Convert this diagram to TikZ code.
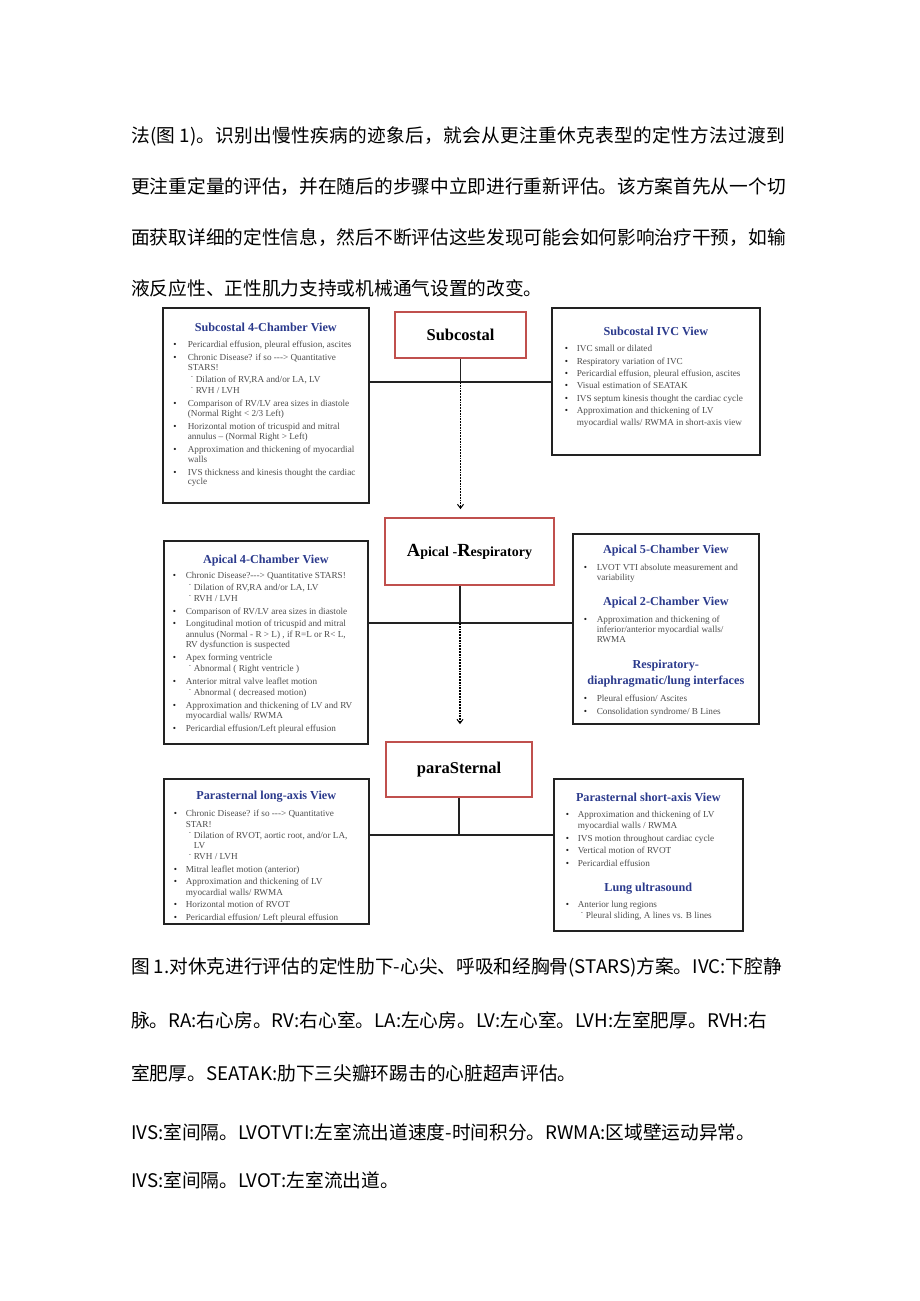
\documentclass[tikz,border=0pt]{standalone}
\usepackage{fontspec}
\setmainfont{Liberation Serif}
\newfontfamily\cjk{Noto Sans CJK SC}
\usetikzlibrary{arrows.meta,calc}
\definecolor{viewblue}{HTML}{2B3A8C}
\definecolor{bodygray}{HTML}{4D4D4D}
\definecolor{stagered}{HTML}{C0504D}
\definecolor{framegray}{HTML}{222222}
\XeTeXlinebreaklocale "zh"
\XeTeXlinebreakskip=0pt plus 1pt
% list lines inside the view boxes
\newlength\bulx \newlength\txtx \newlength\subx \newlength\subtx
\newlength\subgap \newlength\headpost
\setlength\subgap{1.5pt}
\newcommand{\vsetup}[7]{\setlength\bulx{#1pt}\setlength\txtx{#2pt}%
  \setlength\subx{#3pt}\setlength\subtx{#4pt}\setlength\parskip{#5pt}%
  \fontsize{9.2}{#6}\selectfont\setlength\headpost{#7pt}}
\newcommand{\vhead}[2][0]{\par\vskip#1pt\relax
  {\centering\bfseries\fontsize{12.2}{16}\selectfont\leavevmode\color{viewblue}#2\par}\vskip\headpost}
\newcommand{\vitem}[1]{\par\hangindent=\txtx\hangafter=1\noindent
  \hbox to\txtx{\hskip\bulx\textcolor{framegray}{\textbullet}\hss}#1}
\newcommand{\vsub}[1]{\par\vskip-\subgap\hangindent=\subtx\hangafter=1\noindent
  \hbox to\subtx{\hskip\subx\textsuperscript{-}\hss}#1}

\begin{document}
\begin{tikzpicture}[x=1pt, y=-1pt,
    zhline/.style={anchor=west, inner sep=0pt, font=\cjk\fontsize{18.7}{20}\selectfont},
    viewbox/.style={draw=framegray, line width=1.6pt, inner sep=0pt, anchor=north west,
      text=bodygray, font=\fontsize{9.2}{9.8}\selectfont},
    stage/.style={draw=stagered, line width=1.8pt, inner sep=0pt,
      font=\bfseries\fontsize{16.5}{18}\selectfont},
    link/.style={draw=framegray, line width=1.9pt},
    flow/.style={draw=black, line width=1.8pt, densely dotted,
      -{Straight Barb[length=4pt,width=6pt,line width=1pt]}}]
  \useasboundingbox (0,0) rectangle (920,1301);
  % paragraph above the chart
  \node[zhline] (p1) at (131,136) {\addfontfeature{LetterSpace=1.5}法(图\kern4pt 1)。识别出慢性疾病的迹象后，就会从更注重休克表型的定性方法过渡到};
  \node[zhline] (p2) at (131,187) {\makebox[654pt][s]{更注重定量的评估，并在随后的步骤中立即进行重新评估。该方案首先从一个切}};
  \node[zhline] (p3) at (131,238) {\makebox[654pt][s]{面获取详细的定性信息，然后不断评估这些发现可能会如何影响治疗干预，如输}};
  \node[zhline] (p4) at (131,288) {液反应性、正性肌力支持或机械通气设置的改变。};
  % stages
  \node[stage, minimum width=131pt, minimum height=46pt] (subc) at (460.5,335) {Subcostal};
  \node[stage, minimum width=169pt, minimum height=67pt] (apres) at (469.5,551.5)
    {{\fontsize{18.5}{20}\selectfont A}{\fontsize{14}{16}\selectfont pical -}%
     {\fontsize{18.5}{20}\selectfont R}{\fontsize{14}{16}\selectfont espiratory}};
  \node[stage, minimum width=146pt, minimum height=55pt] (parast) at (459,769.5) {paraSternal};
  % views, subcostal row
  \node[viewbox] (sc4) at (162,307) {\parbox[t][195pt][t]{206pt}{%
    \vsetup{10.5}{25}{28}{33}{3.2}{9.8}{3}\vspace*{12.5pt}%
    \vhead{Subcostal 4-Chamber View}
    \vitem{Pericardial effusion, pleural effusion, ascites}
    \vitem{Chronic Disease? if so -{}-{}-> Quantitative\\STARS!}
    \vsub{Dilation of RV,RA and/or LA, LV}
    \vsub{RVH / LVH}
    \vitem{Comparison of RV/LV area sizes in diastole\\(Normal Right < 2/3 Left)}
    \vitem{Horizontal motion of tricuspid and mitral\\annulus -- (Normal Right > Left)}
    \vitem{Approximation and thickening of myocardial\\walls}
    \vitem{IVS thickness and kinesis thought the cardiac\\cycle}}};
  \node[viewbox] (ivc) at (551,307) {\parbox[t][147pt][t]{208pt}{%
    \vsetup{13}{25}{0}{0}{0}{12.3}{3.7}\vspace*{19.7pt}%
    \vhead{Subcostal IVC View}
    \vitem{IVC small or dilated}
    \vitem{Respiratory variation of IVC}
    \vitem{Pericardial effusion, pleural effusion, ascites}
    \vitem{Visual estimation of SEATAK}
    \vitem{IVS septum kinesis thought the cardiac cycle}
    \vitem{Approximation and thickening of LV\\myocardial walls/ RWMA in short-axis view}}};
  % views, apical row
  \node[viewbox] (ap4) at (163,540) {\parbox[t][203pt][t]{204pt}{%
    \vsetup{9}{22}{25}{30}{2.2}{10.5}{2.3}\vspace*{12.5pt}%
    \vhead{Apical 4-Chamber View}
    \vitem{Chronic Disease?-{}-{}-> Quantitative STARS!}
    \vsub{Dilation of RV,RA and/or LA, LV}
    \vsub{RVH / LVH}
    \vitem{Comparison of RV/LV area sizes in diastole}
    \vitem{Longitudinal motion of tricuspid and mitral\\annulus (Normal - R > L) , if R=L or R< L,\\RV dysfunction is suspected}
    \vitem{Apex forming ventricle}
    \vsub{Abnormal ( Right ventricle )}
    \vitem{Anterior mitral valve leaflet motion}
    \vsub{Abnormal ( decreased motion)}
    \vitem{Approximation and thickening of LV and RV\\myocardial walls/ RWMA}
    \vitem{Pericardial effusion/Left pleural effusion}}};
  \node[viewbox] (ap52) at (572,533) {\parbox[t][190pt][t]{186pt}{%
    \vsetup{11}{24}{0}{0}{3}{10}{4}\vspace*{8.7pt}%
    \vhead{Apical 5-Chamber View}
    \vitem{LVOT VTI absolute measurement and\\variability}
    \vhead[6]{Apical 2-Chamber View}
    \vitem{Approximation and thickening of\\inferior/anterior myocardial walls/\\RWMA}
    \vhead[7]{Respiratory-\\diaphragmatic/lung interfaces}
    \vitem{Pleural effusion/ Ascites}
    \vitem{Consolidation syndrome/ B Lines}}};
  % views, parasternal row
  \node[viewbox] (pslax) at (163,778) {\parbox[t][145pt][t]{205pt}{%
    \vsetup{10}{22}{25}{30}{2}{10.5}{4.5}\setlength\subgap{1.5pt}\vspace*{10.7pt}%
    \vhead{Parasternal long-axis View}
    \vitem{Chronic Disease? if so -{}-{}-> Quantitative\\STAR!}
    \vsub{Dilation of RVOT, aortic root, and/or LA,\\LV}
    \vsub{RVH / LVH}
    \vitem{Mitral leaflet motion (anterior)}
    \vitem{Approximation and thickening of LV\\myocardial walls/ RWMA}
    \vitem{Horizontal motion of RVOT}
    \vitem{Pericardial effusion/ Left pleural effusion}}};
  \node[viewbox] (pssax) at (553,778) {\parbox[t][152pt][t]{189pt}{%
    \vsetup{12}{24}{27}{32}{1.5}{11}{3.5}\vspace*{13.2pt}%
    \vhead{Parasternal short-axis View}
    \vitem{Approximation and thickening of LV\\myocardial walls / RWMA}
    \vitem{IVS motion throughout cardiac cycle}
    \vitem{Vertical motion of RVOT}
    \vitem{Pericardial effusion}
    \vhead[7.5]{Lung ultrasound}
    \vitem{Anterior lung regions}
    \vsub{Pleural sliding, A lines vs. B lines}}};
  % connectors
  \coordinate (j1) at ($(subc.south)+(0,23)$);
  \draw[link] (subc.south) -- (j1);
  \draw[link] (sc4.east |- j1) -- (ivc.west |- j1);
  \draw[flow, shorten >=8pt] (j1) -- (j1 |- apres.north);
  \coordinate (j2) at (460,623);
  \draw[link] (j2 |- apres.south) -- (j2);
  \draw[link] (ap4.east |- j2) -- (ap52.west |- j2);
  \draw[flow, shorten >=17pt] (j2) -- (j2 |- parast.north);
  \coordinate (j3) at ($(parast.south)+(0,37)$);
  \draw[link] (parast.south) -- (j3);
  \draw[link] (pslax.east |- j3) -- (pssax.west |- j3);
  % caption below the chart
  \node[zhline] (c1) at (131,967) {\makebox[654pt][s]{图\kern4pt 1.对休克进行评估的定性肋下-心尖、呼吸和经胸骨(STARS)方案。IVC:下腔静}};
  \node[zhline] (c2) at (131,1020) {\makebox[654pt][s]{脉。RA:右心房。RV:右心室。LA:左心房。LV:左心室。LVH:左室肥厚。RVH:右}};
  \node[zhline] (c3) at (131,1073) {室肥厚。SEATAK:肋下三尖瓣环踢击的心脏超声评估。};
  \node[zhline] (c4) at (131,1132) {IVS:室间隔。LVOTVTI:左室流出道速度-时间积分。RWMA:区域壁运动异常。};
  \node[zhline] (c5) at (131,1180) {IVS:室间隔。LVOT:左室流出道。};
\end{tikzpicture}
\end{document}
